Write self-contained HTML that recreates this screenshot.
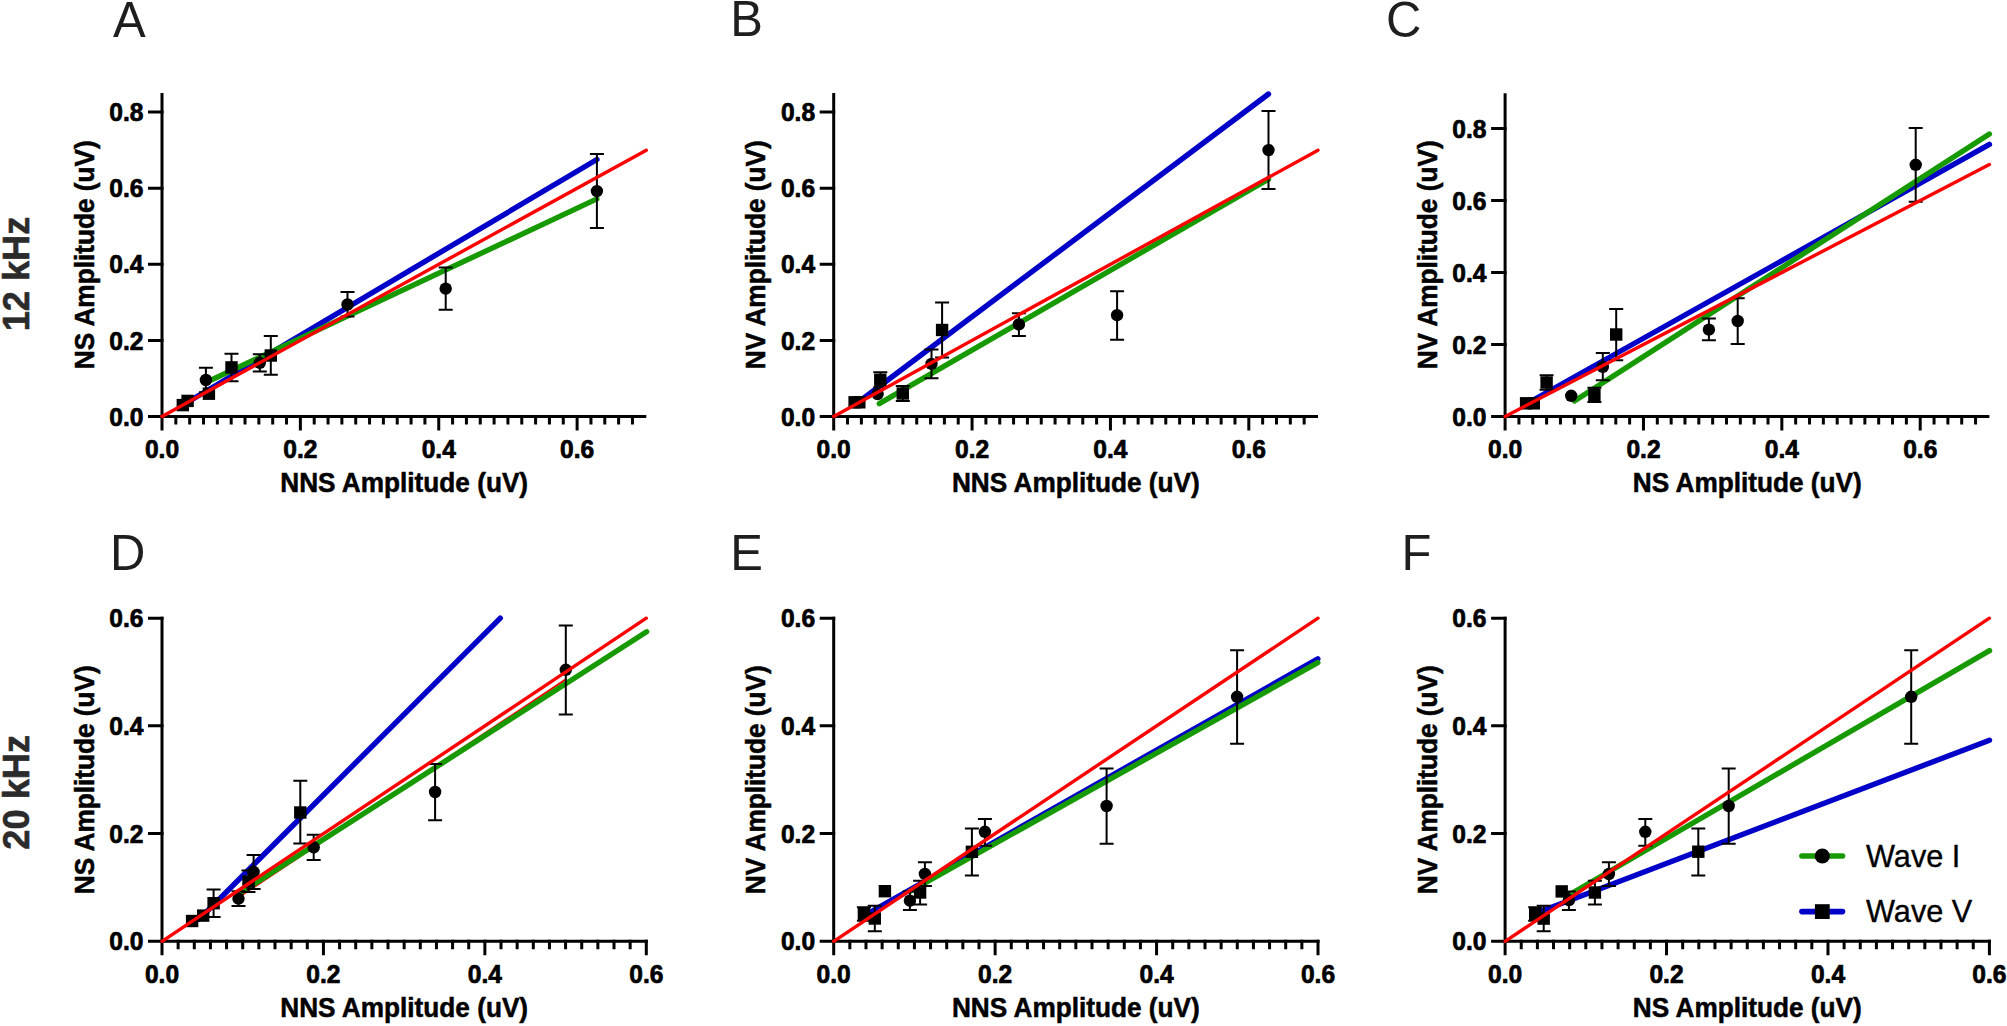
<!DOCTYPE html>
<html lang="en"><head><meta charset="utf-8"><title>Figure</title>
<style>html,body{margin:0;padding:0;background:#fff}svg{display:block}text{font-family:"Liberation Sans",Arial,sans-serif}</style>
</head><body>
<svg width="2007" height="1026" viewBox="0 0 2007 1026" font-family="'Liberation Sans', Arial, sans-serif">
<rect width="2007" height="1026" fill="#fff"/>
<g>
<line x1="182.8" y1="405" x2="596.9" y2="159.5" stroke="#0000c8" stroke-width="5.4" stroke-linecap="round"/>
<line x1="205.9" y1="382.5" x2="596.9" y2="198.9" stroke="#169a00" stroke-width="5.4" stroke-linecap="round"/>
<path d="M231.5 353.7V381.2M224.5 353.7h14M224.5 381.2h14" stroke="#000" stroke-width="2" fill="none"/>
<path d="M270.8 336.1V374.8M263.8 336.1h14M263.8 374.8h14" stroke="#000" stroke-width="2" fill="none"/>
<path d="M205.9 367.8V392.2M198.9 367.8h14M198.9 392.2h14" stroke="#000" stroke-width="2" fill="none"/>
<path d="M259.8 354.2V371.6M252.8 354.2h14M252.8 371.6h14" stroke="#000" stroke-width="2" fill="none"/>
<path d="M347.5 292.1V316.5M340.5 292.1h14M340.5 316.5h14" stroke="#000" stroke-width="2" fill="none"/>
<path d="M445.7 267.4V309.8M438.7 267.4h14M438.7 309.8h14" stroke="#000" stroke-width="2" fill="none"/>
<path d="M596.9 154.1V227.9M589.9 154.1h14M589.9 227.9h14" stroke="#000" stroke-width="2" fill="none"/>
<rect x="176.6" y="398.9" width="12.4" height="12.4" fill="#000"/>
<rect x="181.4" y="394.7" width="12.4" height="12.4" fill="#000"/>
<rect x="202.7" y="387.5" width="12.4" height="12.4" fill="#000"/>
<rect x="225.3" y="361.2" width="12.4" height="12.4" fill="#000"/>
<rect x="264.6" y="349.3" width="12.4" height="12.4" fill="#000"/>
<circle cx="205.9" cy="380" r="6.2" fill="#000"/>
<circle cx="259.8" cy="362.8" r="6.2" fill="#000"/>
<circle cx="347.5" cy="304.5" r="6.2" fill="#000"/>
<circle cx="445.7" cy="288.6" r="6.2" fill="#000"/>
<circle cx="596.9" cy="191.1" r="6.2" fill="#000"/>
<path d="M162 93.07V416.5H646.3" stroke="#000" stroke-width="3" fill="none" stroke-linejoin="miter"/>
<path d="M163.5 416.5H148M163.5 340.4H148M163.5 264.3H148M163.5 188.2H148M163.5 112.1H148M162 415V430.5M175.84 415V424.5M189.67 415V424.5M203.51 415V424.5M217.35 415V424.5M231.19 415V424.5M245.02 415V424.5M258.86 415V424.5M272.7 415V424.5M286.53 415V424.5M300.37 415V430.5M314.21 415V424.5M328.05 415V424.5M341.88 415V424.5M355.72 415V424.5M369.56 415V424.5M383.39 415V424.5M397.23 415V424.5M411.07 415V424.5M424.91 415V424.5M438.74 415V430.5M452.58 415V424.5M466.42 415V424.5M480.25 415V424.5M494.09 415V424.5M507.93 415V424.5M521.77 415V424.5M535.6 415V424.5M549.44 415V424.5M563.28 415V424.5M577.11 415V430.5M590.95 415V424.5M604.79 415V424.5M618.63 415V424.5M632.46 415V424.5" stroke="#000" stroke-width="3" fill="none"/>
<line x1="162" y1="416.5" x2="646.3" y2="150.2" stroke="#ff0000" stroke-width="3.4" stroke-linecap="round"/>
<text transform="translate(143.4 425.6) scale(1 1.045)" font-size="24.6" font-weight="bold" text-anchor="end" fill="#000" stroke="#000" stroke-width="0.7" stroke-linejoin="round">0.0</text>
<text transform="translate(143.4 349.5) scale(1 1.045)" font-size="24.6" font-weight="bold" text-anchor="end" fill="#000" stroke="#000" stroke-width="0.7" stroke-linejoin="round">0.2</text>
<text transform="translate(143.4 273.4) scale(1 1.045)" font-size="24.6" font-weight="bold" text-anchor="end" fill="#000" stroke="#000" stroke-width="0.7" stroke-linejoin="round">0.4</text>
<text transform="translate(143.4 197.3) scale(1 1.045)" font-size="24.6" font-weight="bold" text-anchor="end" fill="#000" stroke="#000" stroke-width="0.7" stroke-linejoin="round">0.6</text>
<text transform="translate(143.4 121.2) scale(1 1.045)" font-size="24.6" font-weight="bold" text-anchor="end" fill="#000" stroke="#000" stroke-width="0.7" stroke-linejoin="round">0.8</text>
<text transform="translate(162 457.8) scale(1 1.045)" font-size="24.6" font-weight="bold" text-anchor="middle" fill="#000" stroke="#000" stroke-width="0.7" stroke-linejoin="round">0.0</text>
<text transform="translate(300.37 457.8) scale(1 1.045)" font-size="24.6" font-weight="bold" text-anchor="middle" fill="#000" stroke="#000" stroke-width="0.7" stroke-linejoin="round">0.2</text>
<text transform="translate(438.74 457.8) scale(1 1.045)" font-size="24.6" font-weight="bold" text-anchor="middle" fill="#000" stroke="#000" stroke-width="0.7" stroke-linejoin="round">0.4</text>
<text transform="translate(577.11 457.8) scale(1 1.045)" font-size="24.6" font-weight="bold" text-anchor="middle" fill="#000" stroke="#000" stroke-width="0.7" stroke-linejoin="round">0.6</text>
<text transform="translate(404.15 492.1) scale(1 1.050)" font-size="26.2" font-weight="bold" text-anchor="middle" fill="#000" stroke="#000" stroke-width="0.5" stroke-linejoin="round">NNS Amplitude (uV)</text>
<text transform="translate(93.6 254.79) rotate(-90) scale(1 1.050)" font-size="26.2" font-weight="bold" text-anchor="middle" fill="#000" stroke="#000" stroke-width="0.5" stroke-linejoin="round">NS Amplitude (uV)</text>
</g>
<g>
<line x1="854.6" y1="405" x2="1268.5" y2="94" stroke="#0000c8" stroke-width="5.4" stroke-linecap="round"/>
<line x1="879.3" y1="403.6" x2="1268.5" y2="179.2" stroke="#169a00" stroke-width="5.4" stroke-linecap="round"/>
<path d="M880.3 372.3V387.3M873.3 372.3h14M873.3 387.3h14" stroke="#000" stroke-width="2" fill="none"/>
<path d="M902.8 386V401M895.8 386h14M895.8 401h14" stroke="#000" stroke-width="2" fill="none"/>
<path d="M942.1 302.5V357.6M935.1 302.5h14M935.1 357.6h14" stroke="#000" stroke-width="2" fill="none"/>
<path d="M931.5 349.4V378.2M924.5 349.4h14M924.5 378.2h14" stroke="#000" stroke-width="2" fill="none"/>
<path d="M1018.9 313.2V336M1011.9 313.2h14M1011.9 336h14" stroke="#000" stroke-width="2" fill="none"/>
<path d="M1117.1 291.2V339.8M1110.1 291.2h14M1110.1 339.8h14" stroke="#000" stroke-width="2" fill="none"/>
<path d="M1268.5 110.9V189.1M1261.5 110.9h14M1261.5 189.1h14" stroke="#000" stroke-width="2" fill="none"/>
<rect x="848.4" y="396.1" width="12.4" height="12.4" fill="#000"/>
<rect x="853.1" y="396.1" width="12.4" height="12.4" fill="#000"/>
<rect x="874.1" y="373.6" width="12.4" height="12.4" fill="#000"/>
<rect x="896.6" y="387.3" width="12.4" height="12.4" fill="#000"/>
<rect x="935.9" y="323.8" width="12.4" height="12.4" fill="#000"/>
<circle cx="877.6" cy="394.1" r="6.2" fill="#000"/>
<circle cx="931.5" cy="363.9" r="6.2" fill="#000"/>
<circle cx="1018.9" cy="324.4" r="6.2" fill="#000"/>
<circle cx="1117.1" cy="315.2" r="6.2" fill="#000"/>
<circle cx="1268.5" cy="150.1" r="6.2" fill="#000"/>
<path d="M833.7 93.07V416.5H1318" stroke="#000" stroke-width="3" fill="none" stroke-linejoin="miter"/>
<path d="M835.2 416.5H819.7M835.2 340.4H819.7M835.2 264.3H819.7M835.2 188.2H819.7M835.2 112.1H819.7M833.7 415V430.5M847.54 415V424.5M861.37 415V424.5M875.21 415V424.5M889.05 415V424.5M902.89 415V424.5M916.72 415V424.5M930.56 415V424.5M944.4 415V424.5M958.23 415V424.5M972.07 415V430.5M985.91 415V424.5M999.75 415V424.5M1013.58 415V424.5M1027.42 415V424.5M1041.26 415V424.5M1055.09 415V424.5M1068.93 415V424.5M1082.77 415V424.5M1096.61 415V424.5M1110.44 415V430.5M1124.28 415V424.5M1138.12 415V424.5M1151.95 415V424.5M1165.79 415V424.5M1179.63 415V424.5M1193.47 415V424.5M1207.3 415V424.5M1221.14 415V424.5M1234.98 415V424.5M1248.81 415V430.5M1262.65 415V424.5M1276.49 415V424.5M1290.33 415V424.5M1304.16 415V424.5" stroke="#000" stroke-width="3" fill="none"/>
<line x1="833.7" y1="416.5" x2="1318" y2="150.2" stroke="#ff0000" stroke-width="3.4" stroke-linecap="round"/>
<text transform="translate(815.1 425.6) scale(1 1.045)" font-size="24.6" font-weight="bold" text-anchor="end" fill="#000" stroke="#000" stroke-width="0.7" stroke-linejoin="round">0.0</text>
<text transform="translate(815.1 349.5) scale(1 1.045)" font-size="24.6" font-weight="bold" text-anchor="end" fill="#000" stroke="#000" stroke-width="0.7" stroke-linejoin="round">0.2</text>
<text transform="translate(815.1 273.4) scale(1 1.045)" font-size="24.6" font-weight="bold" text-anchor="end" fill="#000" stroke="#000" stroke-width="0.7" stroke-linejoin="round">0.4</text>
<text transform="translate(815.1 197.3) scale(1 1.045)" font-size="24.6" font-weight="bold" text-anchor="end" fill="#000" stroke="#000" stroke-width="0.7" stroke-linejoin="round">0.6</text>
<text transform="translate(815.1 121.2) scale(1 1.045)" font-size="24.6" font-weight="bold" text-anchor="end" fill="#000" stroke="#000" stroke-width="0.7" stroke-linejoin="round">0.8</text>
<text transform="translate(833.7 457.8) scale(1 1.045)" font-size="24.6" font-weight="bold" text-anchor="middle" fill="#000" stroke="#000" stroke-width="0.7" stroke-linejoin="round">0.0</text>
<text transform="translate(972.07 457.8) scale(1 1.045)" font-size="24.6" font-weight="bold" text-anchor="middle" fill="#000" stroke="#000" stroke-width="0.7" stroke-linejoin="round">0.2</text>
<text transform="translate(1110.44 457.8) scale(1 1.045)" font-size="24.6" font-weight="bold" text-anchor="middle" fill="#000" stroke="#000" stroke-width="0.7" stroke-linejoin="round">0.4</text>
<text transform="translate(1248.81 457.8) scale(1 1.045)" font-size="24.6" font-weight="bold" text-anchor="middle" fill="#000" stroke="#000" stroke-width="0.7" stroke-linejoin="round">0.6</text>
<text transform="translate(1075.85 492.1) scale(1 1.050)" font-size="26.2" font-weight="bold" text-anchor="middle" fill="#000" stroke="#000" stroke-width="0.5" stroke-linejoin="round">NNS Amplitude (uV)</text>
<text transform="translate(765.3 254.79) rotate(-90) scale(1 1.050)" font-size="26.2" font-weight="bold" text-anchor="middle" fill="#000" stroke="#000" stroke-width="0.5" stroke-linejoin="round">NV Amplitude (uV)</text>
</g>
<g>
<line x1="1526.1" y1="404" x2="1989.4" y2="144.4" stroke="#0000c8" stroke-width="5.4" stroke-linecap="round"/>
<line x1="1574.5" y1="401" x2="1989.4" y2="134.1" stroke="#169a00" stroke-width="5.4" stroke-linecap="round"/>
<path d="M1546.6 375.3V389.7M1539.6 375.3h14M1539.6 389.7h14" stroke="#000" stroke-width="2" fill="none"/>
<path d="M1594.4 387.7V401.9M1587.4 387.7h14M1587.4 401.9h14" stroke="#000" stroke-width="2" fill="none"/>
<path d="M1616.2 308.9V360.3M1609.2 308.9h14M1609.2 360.3h14" stroke="#000" stroke-width="2" fill="none"/>
<path d="M1602.8 352.9V380.2M1595.8 352.9h14M1595.8 380.2h14" stroke="#000" stroke-width="2" fill="none"/>
<path d="M1708.9 318.5V340.3M1701.9 318.5h14M1701.9 340.3h14" stroke="#000" stroke-width="2" fill="none"/>
<path d="M1737.7 298.2V343.9M1730.7 298.2h14M1730.7 343.9h14" stroke="#000" stroke-width="2" fill="none"/>
<path d="M1915.7 128V201.7M1908.7 128h14M1908.7 201.7h14" stroke="#000" stroke-width="2" fill="none"/>
<rect x="1519.9" y="397.1" width="12.4" height="12.4" fill="#000"/>
<rect x="1527.6" y="397.1" width="12.4" height="12.4" fill="#000"/>
<rect x="1540.4" y="376.3" width="12.4" height="12.4" fill="#000"/>
<rect x="1588.2" y="388.6" width="12.4" height="12.4" fill="#000"/>
<rect x="1610" y="328.3" width="12.4" height="12.4" fill="#000"/>
<circle cx="1571.2" cy="395.8" r="6.2" fill="#000"/>
<circle cx="1602.8" cy="366.9" r="6.2" fill="#000"/>
<circle cx="1708.9" cy="329.6" r="6.2" fill="#000"/>
<circle cx="1737.7" cy="321" r="6.2" fill="#000"/>
<circle cx="1915.7" cy="164.8" r="6.2" fill="#000"/>
<path d="M1505.1 93.22V416.5H1989.4" stroke="#000" stroke-width="3" fill="none" stroke-linejoin="miter"/>
<path d="M1506.6 416.5H1491.1M1506.6 344.5H1491.1M1506.6 272.5H1491.1M1506.6 200.5H1491.1M1506.6 128.5H1491.1M1505.1 415V430.5M1518.94 415V424.5M1532.77 415V424.5M1546.61 415V424.5M1560.45 415V424.5M1574.29 415V424.5M1588.12 415V424.5M1601.96 415V424.5M1615.8 415V424.5M1629.63 415V424.5M1643.47 415V430.5M1657.31 415V424.5M1671.15 415V424.5M1684.98 415V424.5M1698.82 415V424.5M1712.66 415V424.5M1726.49 415V424.5M1740.33 415V424.5M1754.17 415V424.5M1768.01 415V424.5M1781.84 415V430.5M1795.68 415V424.5M1809.52 415V424.5M1823.35 415V424.5M1837.19 415V424.5M1851.03 415V424.5M1864.87 415V424.5M1878.7 415V424.5M1892.54 415V424.5M1906.38 415V424.5M1920.21 415V430.5M1934.05 415V424.5M1947.89 415V424.5M1961.73 415V424.5M1975.56 415V424.5" stroke="#000" stroke-width="3" fill="none"/>
<line x1="1505.1" y1="416.5" x2="1989.4" y2="164.5" stroke="#ff0000" stroke-width="3.4" stroke-linecap="round"/>
<text transform="translate(1486.5 425.6) scale(1 1.045)" font-size="24.6" font-weight="bold" text-anchor="end" fill="#000" stroke="#000" stroke-width="0.7" stroke-linejoin="round">0.0</text>
<text transform="translate(1486.5 353.6) scale(1 1.045)" font-size="24.6" font-weight="bold" text-anchor="end" fill="#000" stroke="#000" stroke-width="0.7" stroke-linejoin="round">0.2</text>
<text transform="translate(1486.5 281.6) scale(1 1.045)" font-size="24.6" font-weight="bold" text-anchor="end" fill="#000" stroke="#000" stroke-width="0.7" stroke-linejoin="round">0.4</text>
<text transform="translate(1486.5 209.6) scale(1 1.045)" font-size="24.6" font-weight="bold" text-anchor="end" fill="#000" stroke="#000" stroke-width="0.7" stroke-linejoin="round">0.6</text>
<text transform="translate(1486.5 137.6) scale(1 1.045)" font-size="24.6" font-weight="bold" text-anchor="end" fill="#000" stroke="#000" stroke-width="0.7" stroke-linejoin="round">0.8</text>
<text transform="translate(1505.1 457.8) scale(1 1.045)" font-size="24.6" font-weight="bold" text-anchor="middle" fill="#000" stroke="#000" stroke-width="0.7" stroke-linejoin="round">0.0</text>
<text transform="translate(1643.47 457.8) scale(1 1.045)" font-size="24.6" font-weight="bold" text-anchor="middle" fill="#000" stroke="#000" stroke-width="0.7" stroke-linejoin="round">0.2</text>
<text transform="translate(1781.84 457.8) scale(1 1.045)" font-size="24.6" font-weight="bold" text-anchor="middle" fill="#000" stroke="#000" stroke-width="0.7" stroke-linejoin="round">0.4</text>
<text transform="translate(1920.21 457.8) scale(1 1.045)" font-size="24.6" font-weight="bold" text-anchor="middle" fill="#000" stroke="#000" stroke-width="0.7" stroke-linejoin="round">0.6</text>
<text transform="translate(1747.25 492.1) scale(1 1.050)" font-size="26.2" font-weight="bold" text-anchor="middle" fill="#000" stroke="#000" stroke-width="0.5" stroke-linejoin="round">NS Amplitude (uV)</text>
<text transform="translate(1436.7 254.86) rotate(-90) scale(1 1.050)" font-size="26.2" font-weight="bold" text-anchor="middle" fill="#000" stroke="#000" stroke-width="0.5" stroke-linejoin="round">NV Amplitude (uV)</text>
</g>
<g>
<line x1="238.5" y1="897.3" x2="565.8" y2="679.4" stroke="#ff0000" stroke-width="2" stroke-linecap="round"/>
<line x1="199" y1="919.4" x2="500.3" y2="618.1" stroke="#0000c8" stroke-width="5.4" stroke-linecap="round"/>
<line x1="238.5" y1="894" x2="646.6" y2="631.8" stroke="#169a00" stroke-width="5.4" stroke-linecap="round"/>
<path d="M213.6 889.6V916.9M206.6 889.6h14M206.6 916.9h14" stroke="#000" stroke-width="2" fill="none"/>
<path d="M248.5 870.5V892M241.5 870.5h14M241.5 892h14" stroke="#000" stroke-width="2" fill="none"/>
<path d="M300.3 780.7V843.5M293.3 780.7h14M293.3 843.5h14" stroke="#000" stroke-width="2" fill="none"/>
<path d="M238.5 891.3V906.1M231.5 891.3h14M231.5 906.1h14" stroke="#000" stroke-width="2" fill="none"/>
<path d="M253.6 854.9V888.9M246.6 854.9h14M246.6 888.9h14" stroke="#000" stroke-width="2" fill="none"/>
<path d="M313.7 834.8V860M306.7 834.8h14M306.7 860h14" stroke="#000" stroke-width="2" fill="none"/>
<path d="M435.1 764V820.2M428.1 764h14M428.1 820.2h14" stroke="#000" stroke-width="2" fill="none"/>
<path d="M565.8 625.5V714.4M558.8 625.5h14M558.8 714.4h14" stroke="#000" stroke-width="2" fill="none"/>
<rect x="185.9" y="914.8" width="12.4" height="12.4" fill="#000"/>
<rect x="197" y="909.4" width="12.4" height="12.4" fill="#000"/>
<rect x="207.4" y="897" width="12.4" height="12.4" fill="#000"/>
<rect x="242.3" y="875.3" width="12.4" height="12.4" fill="#000"/>
<rect x="294.1" y="806.3" width="12.4" height="12.4" fill="#000"/>
<circle cx="238.5" cy="898.6" r="6.2" fill="#000"/>
<circle cx="253.6" cy="872" r="6.2" fill="#000"/>
<circle cx="313.7" cy="847.3" r="6.2" fill="#000"/>
<circle cx="435.1" cy="792" r="6.2" fill="#000"/>
<circle cx="565.8" cy="669.8" r="6.2" fill="#000"/>
<path d="M162 616.64V941.3H647.8" stroke="#000" stroke-width="3" fill="none" stroke-linejoin="miter"/>
<path d="M163.5 941.3H148M163.5 833.58H148M163.5 725.86H148M163.5 618.14H148M162 939.8V955.3M178.14 939.8V949.3M194.29 939.8V949.3M210.43 939.8V949.3M226.57 939.8V949.3M242.72 939.8V949.3M258.86 939.8V949.3M275 939.8V949.3M291.15 939.8V949.3M307.29 939.8V949.3M323.43 939.8V955.3M339.58 939.8V949.3M355.72 939.8V949.3M371.86 939.8V949.3M388.01 939.8V949.3M404.15 939.8V949.3M420.29 939.8V949.3M436.44 939.8V949.3M452.58 939.8V949.3M468.72 939.8V949.3M484.87 939.8V955.3M501.01 939.8V949.3M517.15 939.8V949.3M533.3 939.8V949.3M549.44 939.8V949.3M565.58 939.8V949.3M581.73 939.8V949.3M597.87 939.8V949.3M614.01 939.8V949.3M630.16 939.8V949.3M646.3 939.8V955.3" stroke="#000" stroke-width="3" fill="none"/>
<line x1="162" y1="941.3" x2="646.3" y2="618.2" stroke="#ff0000" stroke-width="3.4" stroke-linecap="round"/>
<text transform="translate(143.4 950.4) scale(1 1.045)" font-size="24.6" font-weight="bold" text-anchor="end" fill="#000" stroke="#000" stroke-width="0.7" stroke-linejoin="round">0.0</text>
<text transform="translate(143.4 842.68) scale(1 1.045)" font-size="24.6" font-weight="bold" text-anchor="end" fill="#000" stroke="#000" stroke-width="0.7" stroke-linejoin="round">0.2</text>
<text transform="translate(143.4 734.96) scale(1 1.045)" font-size="24.6" font-weight="bold" text-anchor="end" fill="#000" stroke="#000" stroke-width="0.7" stroke-linejoin="round">0.4</text>
<text transform="translate(143.4 627.24) scale(1 1.045)" font-size="24.6" font-weight="bold" text-anchor="end" fill="#000" stroke="#000" stroke-width="0.7" stroke-linejoin="round">0.6</text>
<text transform="translate(162 982.6) scale(1 1.045)" font-size="24.6" font-weight="bold" text-anchor="middle" fill="#000" stroke="#000" stroke-width="0.7" stroke-linejoin="round">0.0</text>
<text transform="translate(323.43 982.6) scale(1 1.045)" font-size="24.6" font-weight="bold" text-anchor="middle" fill="#000" stroke="#000" stroke-width="0.7" stroke-linejoin="round">0.2</text>
<text transform="translate(484.87 982.6) scale(1 1.045)" font-size="24.6" font-weight="bold" text-anchor="middle" fill="#000" stroke="#000" stroke-width="0.7" stroke-linejoin="round">0.4</text>
<text transform="translate(646.3 982.6) scale(1 1.045)" font-size="24.6" font-weight="bold" text-anchor="middle" fill="#000" stroke="#000" stroke-width="0.7" stroke-linejoin="round">0.6</text>
<text transform="translate(404.15 1016.9) scale(1 1.050)" font-size="26.2" font-weight="bold" text-anchor="middle" fill="#000" stroke="#000" stroke-width="0.5" stroke-linejoin="round">NNS Amplitude (uV)</text>
<text transform="translate(93.6 779.72) rotate(-90) scale(1 1.050)" font-size="26.2" font-weight="bold" text-anchor="middle" fill="#000" stroke="#000" stroke-width="0.5" stroke-linejoin="round">NS Amplitude (uV)</text>
</g>
<g>
<line x1="863.9" y1="915.8" x2="1317.8" y2="658.8" stroke="#0000c8" stroke-width="5.4" stroke-linecap="round"/>
<line x1="909.9" y1="891.4" x2="1317.8" y2="662.6" stroke="#169a00" stroke-width="5.4" stroke-linecap="round"/>
<path d="M863.9 907.2V920.8M856.9 907.2h14M856.9 920.8h14" stroke="#000" stroke-width="2" fill="none"/>
<path d="M874.8 905.8V931.2M867.8 905.8h14M867.8 931.2h14" stroke="#000" stroke-width="2" fill="none"/>
<path d="M920.1 880.7V904.6M913.1 880.7h14M913.1 904.6h14" stroke="#000" stroke-width="2" fill="none"/>
<path d="M971.9 828.4V875.5M964.9 828.4h14M964.9 875.5h14" stroke="#000" stroke-width="2" fill="none"/>
<path d="M909.9 891.5V910M902.9 891.5h14M902.9 910h14" stroke="#000" stroke-width="2" fill="none"/>
<path d="M924.9 862.3V886.1M917.9 862.3h14M917.9 886.1h14" stroke="#000" stroke-width="2" fill="none"/>
<path d="M984.9 818.9V845.7M977.9 818.9h14M977.9 845.7h14" stroke="#000" stroke-width="2" fill="none"/>
<path d="M1106.6 768.5V843.8M1099.6 768.5h14M1099.6 843.8h14" stroke="#000" stroke-width="2" fill="none"/>
<path d="M1237.1 650.2V743.7M1230.1 650.2h14M1230.1 743.7h14" stroke="#000" stroke-width="2" fill="none"/>
<rect x="857.7" y="907.8" width="12.4" height="12.4" fill="#000"/>
<rect x="868.6" y="912.3" width="12.4" height="12.4" fill="#000"/>
<rect x="878.7" y="885" width="12.4" height="12.4" fill="#000"/>
<rect x="913.9" y="886.3" width="12.4" height="12.4" fill="#000"/>
<rect x="965.7" y="845.6" width="12.4" height="12.4" fill="#000"/>
<circle cx="909.9" cy="900.7" r="6.2" fill="#000"/>
<circle cx="924.9" cy="873.9" r="6.2" fill="#000"/>
<circle cx="984.9" cy="831.8" r="6.2" fill="#000"/>
<circle cx="1106.6" cy="806" r="6.2" fill="#000"/>
<circle cx="1237.1" cy="696.8" r="6.2" fill="#000"/>
<path d="M833.7 616.64V941.3H1319.5" stroke="#000" stroke-width="3" fill="none" stroke-linejoin="miter"/>
<path d="M835.2 941.3H819.7M835.2 833.58H819.7M835.2 725.86H819.7M835.2 618.14H819.7M833.7 939.8V955.3M849.84 939.8V949.3M865.99 939.8V949.3M882.13 939.8V949.3M898.27 939.8V949.3M914.42 939.8V949.3M930.56 939.8V949.3M946.7 939.8V949.3M962.85 939.8V949.3M978.99 939.8V949.3M995.13 939.8V955.3M1011.28 939.8V949.3M1027.42 939.8V949.3M1043.56 939.8V949.3M1059.71 939.8V949.3M1075.85 939.8V949.3M1091.99 939.8V949.3M1108.14 939.8V949.3M1124.28 939.8V949.3M1140.42 939.8V949.3M1156.57 939.8V955.3M1172.71 939.8V949.3M1188.85 939.8V949.3M1205 939.8V949.3M1221.14 939.8V949.3M1237.28 939.8V949.3M1253.43 939.8V949.3M1269.57 939.8V949.3M1285.71 939.8V949.3M1301.86 939.8V949.3M1318 939.8V955.3" stroke="#000" stroke-width="3" fill="none"/>
<line x1="833.7" y1="941.3" x2="1318" y2="618.2" stroke="#ff0000" stroke-width="3.4" stroke-linecap="round"/>
<text transform="translate(815.1 950.4) scale(1 1.045)" font-size="24.6" font-weight="bold" text-anchor="end" fill="#000" stroke="#000" stroke-width="0.7" stroke-linejoin="round">0.0</text>
<text transform="translate(815.1 842.68) scale(1 1.045)" font-size="24.6" font-weight="bold" text-anchor="end" fill="#000" stroke="#000" stroke-width="0.7" stroke-linejoin="round">0.2</text>
<text transform="translate(815.1 734.96) scale(1 1.045)" font-size="24.6" font-weight="bold" text-anchor="end" fill="#000" stroke="#000" stroke-width="0.7" stroke-linejoin="round">0.4</text>
<text transform="translate(815.1 627.24) scale(1 1.045)" font-size="24.6" font-weight="bold" text-anchor="end" fill="#000" stroke="#000" stroke-width="0.7" stroke-linejoin="round">0.6</text>
<text transform="translate(833.7 982.6) scale(1 1.045)" font-size="24.6" font-weight="bold" text-anchor="middle" fill="#000" stroke="#000" stroke-width="0.7" stroke-linejoin="round">0.0</text>
<text transform="translate(995.13 982.6) scale(1 1.045)" font-size="24.6" font-weight="bold" text-anchor="middle" fill="#000" stroke="#000" stroke-width="0.7" stroke-linejoin="round">0.2</text>
<text transform="translate(1156.57 982.6) scale(1 1.045)" font-size="24.6" font-weight="bold" text-anchor="middle" fill="#000" stroke="#000" stroke-width="0.7" stroke-linejoin="round">0.4</text>
<text transform="translate(1318 982.6) scale(1 1.045)" font-size="24.6" font-weight="bold" text-anchor="middle" fill="#000" stroke="#000" stroke-width="0.7" stroke-linejoin="round">0.6</text>
<text transform="translate(1075.85 1016.9) scale(1 1.050)" font-size="26.2" font-weight="bold" text-anchor="middle" fill="#000" stroke="#000" stroke-width="0.5" stroke-linejoin="round">NNS Amplitude (uV)</text>
<text transform="translate(765.3 779.72) rotate(-90) scale(1 1.050)" font-size="26.2" font-weight="bold" text-anchor="middle" fill="#000" stroke="#000" stroke-width="0.5" stroke-linejoin="round">NV Amplitude (uV)</text>
</g>
<g>
<line x1="1535.2" y1="913.6" x2="1989.5" y2="740.2" stroke="#0000c8" stroke-width="5.4" stroke-linecap="round"/>
<line x1="1568.9" y1="895" x2="1989.5" y2="650.7" stroke="#169a00" stroke-width="5.4" stroke-linecap="round"/>
<path d="M1535.2 907.2V920.8M1528.2 907.2h14M1528.2 920.8h14" stroke="#000" stroke-width="2" fill="none"/>
<path d="M1543.7 905.8V931.2M1536.7 905.8h14M1536.7 931.2h14" stroke="#000" stroke-width="2" fill="none"/>
<path d="M1594.9 880.7V904.6M1587.9 880.7h14M1587.9 904.6h14" stroke="#000" stroke-width="2" fill="none"/>
<path d="M1698.3 828.4V875.5M1691.3 828.4h14M1691.3 875.5h14" stroke="#000" stroke-width="2" fill="none"/>
<path d="M1568.9 891.6V910M1561.9 891.6h14M1561.9 910h14" stroke="#000" stroke-width="2" fill="none"/>
<path d="M1608.9 862.3V886.1M1601.9 862.3h14M1601.9 886.1h14" stroke="#000" stroke-width="2" fill="none"/>
<path d="M1645.3 818.9V845.7M1638.3 818.9h14M1638.3 845.7h14" stroke="#000" stroke-width="2" fill="none"/>
<path d="M1728.7 768.5V843.8M1721.7 768.5h14M1721.7 843.8h14" stroke="#000" stroke-width="2" fill="none"/>
<path d="M1911.2 650.2V743.7M1904.2 650.2h14M1904.2 743.7h14" stroke="#000" stroke-width="2" fill="none"/>
<rect x="1529" y="907.8" width="12.4" height="12.4" fill="#000"/>
<rect x="1537.5" y="912.4" width="12.4" height="12.4" fill="#000"/>
<rect x="1555.5" y="885.2" width="12.4" height="12.4" fill="#000"/>
<rect x="1588.7" y="886.3" width="12.4" height="12.4" fill="#000"/>
<rect x="1692.1" y="845.5" width="12.4" height="12.4" fill="#000"/>
<circle cx="1568.9" cy="900.2" r="6.2" fill="#000"/>
<circle cx="1608.9" cy="874" r="6.2" fill="#000"/>
<circle cx="1645.3" cy="831.8" r="6.2" fill="#000"/>
<circle cx="1728.7" cy="806" r="6.2" fill="#000"/>
<circle cx="1911.2" cy="696.8" r="6.2" fill="#000"/>
<path d="M1505.1 616.64V941.3H1990.9" stroke="#000" stroke-width="3" fill="none" stroke-linejoin="miter"/>
<path d="M1506.6 941.3H1491.1M1506.6 833.58H1491.1M1506.6 725.86H1491.1M1506.6 618.14H1491.1M1505.1 939.8V955.3M1521.24 939.8V949.3M1537.39 939.8V949.3M1553.53 939.8V949.3M1569.67 939.8V949.3M1585.82 939.8V949.3M1601.96 939.8V949.3M1618.1 939.8V949.3M1634.25 939.8V949.3M1650.39 939.8V949.3M1666.53 939.8V955.3M1682.68 939.8V949.3M1698.82 939.8V949.3M1714.96 939.8V949.3M1731.11 939.8V949.3M1747.25 939.8V949.3M1763.39 939.8V949.3M1779.54 939.8V949.3M1795.68 939.8V949.3M1811.82 939.8V949.3M1827.97 939.8V955.3M1844.11 939.8V949.3M1860.25 939.8V949.3M1876.4 939.8V949.3M1892.54 939.8V949.3M1908.68 939.8V949.3M1924.83 939.8V949.3M1940.97 939.8V949.3M1957.11 939.8V949.3M1973.26 939.8V949.3M1989.4 939.8V955.3" stroke="#000" stroke-width="3" fill="none"/>
<line x1="1505.1" y1="941.3" x2="1989.4" y2="618.2" stroke="#ff0000" stroke-width="3.4" stroke-linecap="round"/>
<text transform="translate(1486.5 950.4) scale(1 1.045)" font-size="24.6" font-weight="bold" text-anchor="end" fill="#000" stroke="#000" stroke-width="0.7" stroke-linejoin="round">0.0</text>
<text transform="translate(1486.5 842.68) scale(1 1.045)" font-size="24.6" font-weight="bold" text-anchor="end" fill="#000" stroke="#000" stroke-width="0.7" stroke-linejoin="round">0.2</text>
<text transform="translate(1486.5 734.96) scale(1 1.045)" font-size="24.6" font-weight="bold" text-anchor="end" fill="#000" stroke="#000" stroke-width="0.7" stroke-linejoin="round">0.4</text>
<text transform="translate(1486.5 627.24) scale(1 1.045)" font-size="24.6" font-weight="bold" text-anchor="end" fill="#000" stroke="#000" stroke-width="0.7" stroke-linejoin="round">0.6</text>
<text transform="translate(1505.1 982.6) scale(1 1.045)" font-size="24.6" font-weight="bold" text-anchor="middle" fill="#000" stroke="#000" stroke-width="0.7" stroke-linejoin="round">0.0</text>
<text transform="translate(1666.53 982.6) scale(1 1.045)" font-size="24.6" font-weight="bold" text-anchor="middle" fill="#000" stroke="#000" stroke-width="0.7" stroke-linejoin="round">0.2</text>
<text transform="translate(1827.97 982.6) scale(1 1.045)" font-size="24.6" font-weight="bold" text-anchor="middle" fill="#000" stroke="#000" stroke-width="0.7" stroke-linejoin="round">0.4</text>
<text transform="translate(1989.4 982.6) scale(1 1.045)" font-size="24.6" font-weight="bold" text-anchor="middle" fill="#000" stroke="#000" stroke-width="0.7" stroke-linejoin="round">0.6</text>
<text transform="translate(1747.25 1016.9) scale(1 1.050)" font-size="26.2" font-weight="bold" text-anchor="middle" fill="#000" stroke="#000" stroke-width="0.5" stroke-linejoin="round">NS Amplitude (uV)</text>
<text transform="translate(1436.7 779.72) rotate(-90) scale(1 1.050)" font-size="26.2" font-weight="bold" text-anchor="middle" fill="#000" stroke="#000" stroke-width="0.5" stroke-linejoin="round">NV Amplitude (uV)</text>
</g>
<text transform="translate(113 36.7) scale(1 1.030)" font-size="49" font-weight="normal" text-anchor="start" fill="#1e1e1e">A</text>
<text transform="translate(730.2 36.4) scale(1 1.030)" font-size="49" font-weight="normal" text-anchor="start" fill="#1e1e1e">B</text>
<text transform="translate(1386 36.7) scale(1 1.030)" font-size="49" font-weight="normal" text-anchor="start" fill="#1e1e1e">C</text>
<text transform="translate(110 569.7) scale(1 1.030)" font-size="49" font-weight="normal" text-anchor="start" fill="#1e1e1e">D</text>
<text transform="translate(730.2 569.7) scale(1 1.030)" font-size="49" font-weight="normal" text-anchor="start" fill="#1e1e1e">E</text>
<text transform="translate(1401.6 569.7) scale(1 1.030)" font-size="49" font-weight="normal" text-anchor="start" fill="#1e1e1e">F</text>
<text transform="translate(29.4 274) rotate(-90)" font-size="36.2" font-weight="bold" text-anchor="middle" fill="#2b2b2b" stroke="#2b2b2b" stroke-width="0.6" stroke-linejoin="round">12 kHz</text>
<text transform="translate(29.4 792.3) rotate(-90)" font-size="36.2" font-weight="bold" text-anchor="middle" fill="#2b2b2b" stroke="#2b2b2b" stroke-width="0.6" stroke-linejoin="round">20 kHz</text>
<g>
<line x1="1801.9" y1="856" x2="1842.5" y2="856" stroke="#169a00" stroke-width="5.6" stroke-linecap="round"/>
<circle cx="1822.3" cy="856" r="7.6" fill="#000"/>
<line x1="1801.9" y1="911.6" x2="1842.5" y2="911.6" stroke="#0000c8" stroke-width="5.6" stroke-linecap="round"/>
<rect x="1814.9" y="904.2" width="14.8" height="14.8" fill="#000"/>
<text transform="translate(1866 866.8) scale(1 1.035)" font-size="30.7" font-weight="normal" text-anchor="start" fill="#000" stroke="#000" stroke-width="0.35" stroke-linejoin="round">Wave I</text>
<text transform="translate(1866 922.1) scale(1 1.035)" font-size="30.7" font-weight="normal" text-anchor="start" fill="#000" stroke="#000" stroke-width="0.35" stroke-linejoin="round">Wave V</text>
</g>
</svg>
</body></html>
